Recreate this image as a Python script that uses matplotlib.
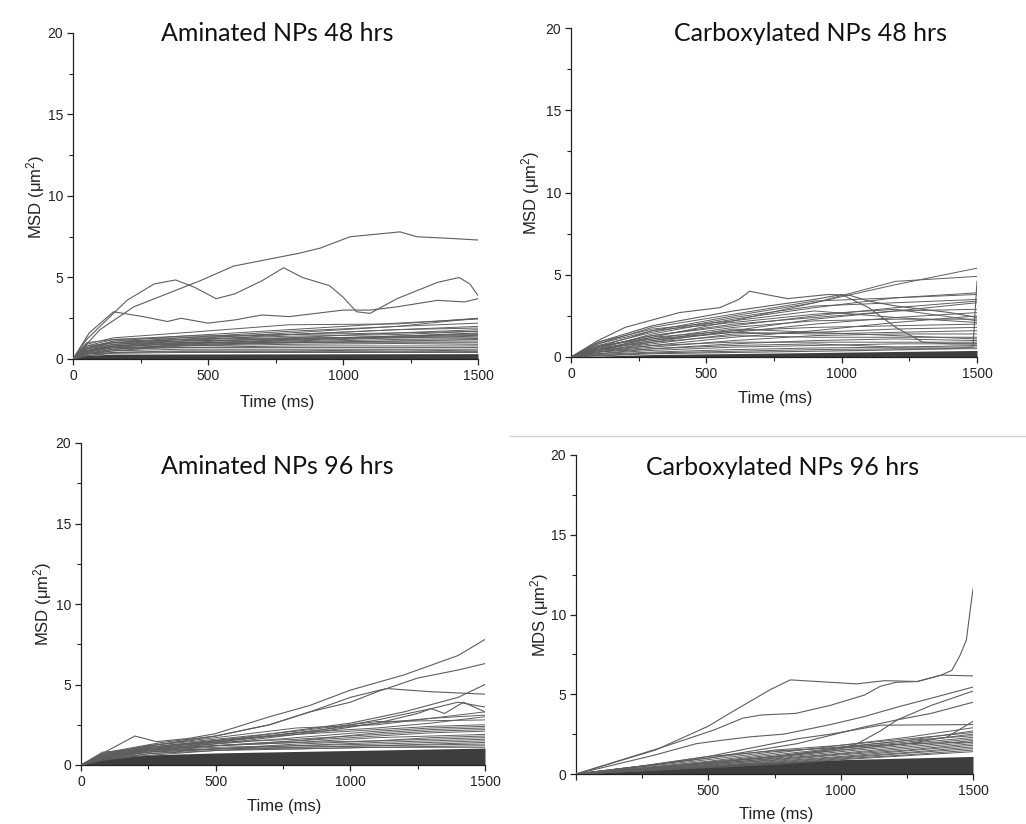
import matplotlib
matplotlib.use("Agg")
import matplotlib.pyplot as plt
from matplotlib.ticker import MultipleLocator, FixedLocator, FixedFormatter

plt.rcParams["mathtext.fontset"] = "custom"
plt.rcParams["mathtext.rm"] = "Liberation Sans"
plt.rcParams["mathtext.it"] = "Liberation Sans:italic"
plt.rcParams["mathtext.bf"] = "Liberation Sans:bold"

W, H = 1026, 824

# ---------------- Aminated NPs, 48 hrs ----------------
am48_grid = [0, 50, 150, 400, 800, 1200, 1500]
am48_bundle = [
    [0, 0.9, 1.3, 1.6, 2.1, 2.15, 2.5],
    [0, 0.6, 1.1, 1.4, 1.8, 2.2, 2.45],
    [0, 0.5, 0.9, 1.2, 1.6, 2.0, 2.5],
    [0, 0.7, 1.0, 1.3, 1.7, 2.0, 2.2],
    [0, 0.5, 0.8, 1.1, 1.5, 1.8, 2.0],
    [0, 0.8, 1.2, 1.3, 1.5, 1.8, 1.9],
    [0, 0.4, 0.7, 1.0, 1.3, 1.6, 1.8],
    [0, 0.6, 1.0, 1.2, 1.4, 1.5, 1.7],
    [0, 0.5, 0.9, 1.1, 1.2, 1.4, 1.6],
    [0, 0.3, 0.6, 0.9, 1.2, 1.4, 1.5],
    [0, 0.7, 1.1, 1.2, 1.3, 1.3, 1.4],
    [0, 0.4, 0.8, 1.0, 1.1, 1.3, 1.3],
    [0, 0.5, 0.8, 0.9, 1.0, 1.1, 1.2],
    [0, 0.3, 0.5, 0.8, 1.0, 1.1, 1.1],
    [0, 0.6, 0.9, 1.0, 1.0, 1.0, 1.0],
    [0, 0.4, 0.7, 0.8, 0.9, 0.95, 0.9],
    [0, 0.3, 0.6, 0.7, 0.8, 0.8, 0.8],
    [0, 0.5, 0.7, 0.7, 0.7, 0.7, 0.7],
    [0, 0.3, 0.5, 0.6, 0.6, 0.6, 0.6],
    [0, 0.2, 0.4, 0.5, 0.5, 0.55, 0.5],
    [0, 0.3, 0.4, 0.45, 0.45, 0.45, 0.45],
    [0, 0.2, 0.35, 0.4, 0.4, 0.4, 0.4],
    [0, 1.0, 1.2, 1.4, 1.5, 1.6, 1.7],
    [0, 0.8, 1.0, 1.1, 1.25, 1.4, 1.55],
    [0, 0.35, 0.6, 0.85, 1.05, 1.2, 1.25],
    [0, 0.45, 0.75, 0.95, 1.15, 1.35, 1.45],
]
am48_high_t = [0, 100, 225, 348, 471, 595, 718, 841, 915, 1026, 1150, 1211, 1273, 1396, 1500]
am48_high_v = [0, 1.8, 3.2, 4.0, 4.8, 5.7, 6.1, 6.5, 6.8, 7.5, 7.7, 7.8, 7.5, 7.4, 7.3]
am48_hump_t = [0, 50, 100, 200, 300, 380, 450, 530, 600, 700, 780, 850, 950, 1000, 1050,
               1100, 1200, 1350, 1430, 1470, 1500]
am48_hump_v = [0, 1.2, 2.0, 3.6, 4.6, 4.85, 4.4, 3.7, 4.0, 4.8, 5.6, 5.0, 4.5, 3.8, 2.9,
               2.8, 3.7, 4.7, 5.0, 4.6, 3.9]
am48_mid_t = [0, 60, 150, 260, 350, 400, 500, 600, 700, 800, 900, 1000, 1100, 1200, 1350, 1450, 1500]
am48_mid_v = [0, 1.6, 2.9, 2.6, 2.3, 2.5, 2.2, 2.4, 2.7, 2.6, 2.8, 3.0, 3.0, 3.2, 3.6, 3.5, 3.7]
am48_core_t = [0, 30, 150, 1500]
am48_core_v = [0, 0.2, 0.3, 0.33]

# ---------------- Carboxylated NPs, 48 hrs ----------------
cb48_grid = [0, 100, 300, 600, 900, 1200, 1500]
cb48_bundle = [
    [0, 0.4, 1.2, 2.2, 3.3, 4.4, 5.4],
    [0, 0.6, 1.6, 2.5, 3.3, 4.6, 4.9],
    [0, 0.8, 1.8, 2.6, 3.4, 3.6, 3.9],
    [0, 0.5, 1.4, 2.3, 3.0, 3.6, 3.8],
    [0, 0.7, 1.5, 2.4, 3.1, 3.3, 3.5],
    [0, 0.3, 0.9, 1.6, 2.3, 2.8, 3.3],
    [0, 0.6, 1.3, 2.0, 2.4, 2.8, 2.9],
    [0, 0.4, 1.0, 1.5, 2.0, 2.4, 2.7],
    [0, 0.9, 1.7, 2.2, 2.8, 2.4, 2.1],
    [0, 0.5, 1.1, 1.8, 2.2, 2.3, 2.3],
    [0, 0.3, 0.7, 1.2, 1.6, 2.1, 2.5],
    [0, 0.6, 1.2, 1.6, 1.8, 1.9, 2.0],
    [0, 0.4, 0.8, 1.4, 1.5, 1.7, 1.8],
    [0, 0.7, 1.1, 1.5, 1.4, 1.5, 1.6],
    [0, 0.3, 0.6, 1.0, 1.3, 1.4, 1.4],
    [0, 0.5, 0.9, 1.3, 1.2, 1.2, 1.2],
    [0, 0.2, 0.5, 0.8, 1.0, 1.1, 1.0],
    [0, 0.4, 0.7, 0.9, 0.9, 0.9, 0.9],
    [0, 0.2, 0.4, 0.6, 0.7, 0.8, 0.8],
    [0, 0.3, 0.5, 0.7, 0.8, 0.6, 0.7],
    [0, 0.15, 0.3, 0.45, 0.55, 0.6, 0.6],
    [0, 0.1, 0.25, 0.35, 0.45, 0.5, 0.5],
    [0, 0.6, 1.3, 1.9, 2.5, 3.0, 3.4],
    [0, 0.8, 1.6, 2.1, 2.6, 2.9, 2.2],
    [0, 0.5, 1.0, 1.7, 1.5, 1.3, 1.1],
]
cb48_hump_t = [0, 100, 200, 400, 550, 620, 660, 720, 800, 950, 1030, 1100, 1200, 1300, 1400, 1500]
cb48_hump_v = [0, 1.0, 1.8, 2.7, 3.0, 3.5, 4.0, 3.8, 3.55, 3.8, 3.75, 3.4, 3.1, 2.9, 2.7, 2.4]
cb48_fall_t = [0, 100, 300, 600, 900, 1000, 1100, 1200, 1300, 1400, 1500]
cb48_fall_v = [0, 0.9, 1.9, 2.8, 3.5, 3.8, 3.0, 1.8, 0.9, 0.8, 0.8]
cb48_spike_t = [0, 300, 700, 1100, 1400, 1485, 1500]
cb48_spike_v = [0, 0.2, 0.3, 0.4, 0.5, 0.6, 4.6]
cb48_core_t = [0, 300, 800, 1500]
cb48_core_v = [0, 0.15, 0.25, 0.4]

# ---------------- Aminated NPs, 96 hrs ----------------
am96_grid = [0, 80, 250, 500, 800, 1100, 1300, 1500]
am96_bundle = [
    [0, 0.6, 1.2, 1.6, 2.1, 2.7, 2.75, 2.8],
    [0, 0.5, 1.0, 1.5, 2.0, 2.6, 2.9, 3.3],
    [0, 0.4, 0.9, 1.4, 2.0, 2.3, 2.6, 3.0],
    [0, 0.7, 1.1, 1.5, 1.9, 2.2, 2.4, 2.5],
    [0, 0.5, 1.0, 1.3, 1.7, 2.1, 2.3, 2.4],
    [0, 0.6, 1.1, 1.4, 1.6, 1.9, 2.1, 2.2],
    [0, 0.4, 0.8, 1.2, 1.5, 1.8, 2.0, 2.1],
    [0, 0.5, 0.9, 1.2, 1.4, 1.7, 1.8, 1.9],
    [0, 0.3, 0.7, 1.0, 1.3, 1.5, 1.7, 1.8],
    [0, 0.6, 1.0, 1.2, 1.4, 1.5, 1.6, 1.7],
    [0, 0.4, 0.8, 1.0, 1.2, 1.4, 1.5, 1.6],
    [0, 0.5, 0.9, 1.1, 1.2, 1.3, 1.4, 1.5],
    [0, 0.3, 0.6, 0.9, 1.1, 1.2, 1.3, 1.4],
    [0, 0.5, 0.8, 1.0, 1.1, 1.2, 1.25, 1.3],
    [0, 0.4, 0.7, 0.9, 1.0, 1.1, 1.15, 1.2],
    [0, 0.6, 0.9, 1.0, 1.0, 1.1, 1.1, 1.1],
    [0, 0.8, 1.0, 1.2, 1.5, 2.0, 2.2, 2.3],
    [0, 0.7, 1.2, 1.7, 2.3, 2.5, 2.9, 3.1],
]
am96_top_t = [0, 100, 200, 280, 400, 500, 700, 850, 1000, 1200, 1400, 1500]
am96_top_v = [0, 0.9, 1.8, 1.45, 1.65, 1.95, 3.0, 3.7, 4.65, 5.6, 6.8, 7.8]
am96_second_t = [0, 100, 300, 500, 700, 850, 1000, 1100, 1250, 1400, 1500]
am96_second_v = [0, 0.7, 1.3, 1.8, 2.5, 3.3, 3.9, 4.55, 5.4, 5.9, 6.3]
am96_peak_t = [0, 100, 300, 500, 700, 850, 1000, 1134, 1300, 1500]
am96_peak_v = [0, 0.8, 1.4, 1.8, 2.5, 3.3, 4.2, 4.75, 4.55, 4.4]
am96_late_t = [0, 100, 300, 600, 1000, 1200, 1400, 1500]
am96_late_v = [0, 0.6, 1.2, 1.7, 2.6, 3.3, 4.2, 5.0]
am96_bend_t = [0, 100, 300, 600, 900, 1100, 1300, 1400, 1500]
am96_bend_v = [0, 0.6, 1.1, 1.6, 2.2, 2.8, 3.5, 3.9, 3.6]
am96_zig_t = [0, 100, 300, 600, 900, 1100, 1250, 1300, 1350, 1420, 1500]
am96_zig_v = [0, 0.5, 1.0, 1.5, 2.1, 2.6, 3.2, 3.5, 3.2, 3.9, 3.3]
am96_core_t = [0, 50, 200, 500, 1000, 1500]
am96_core_v = [0, 0.4, 0.6, 0.75, 0.9, 1.05]

# ---------------- Carboxylated NPs, 96 hrs ----------------
cb96_grid = [0, 250, 500, 750, 1000, 1250, 1500]
cb96_bundle = [
    [0, 0.4, 0.8, 1.3, 1.8, 2.3, 2.9],
    [0, 0.35, 0.75, 1.2, 1.65, 2.1, 2.7],
    [0, 0.3, 0.7, 1.1, 1.6, 2.0, 2.5],
    [0, 0.35, 0.7, 1.05, 1.5, 1.9, 2.3],
    [0, 0.3, 0.6, 1.0, 1.4, 1.8, 2.2],
    [0, 0.3, 0.65, 0.95, 1.3, 1.7, 2.1],
    [0, 0.25, 0.55, 0.9, 1.25, 1.6, 2.0],
    [0, 0.3, 0.6, 0.85, 1.2, 1.5, 1.9],
    [0, 0.25, 0.5, 0.8, 1.1, 1.45, 1.8],
    [0, 0.2, 0.5, 0.75, 1.05, 1.35, 1.7],
    [0, 0.25, 0.45, 0.7, 1.0, 1.3, 1.6],
    [0, 0.2, 0.45, 0.65, 0.95, 1.2, 1.5],
    [0, 0.2, 0.4, 0.6, 0.9, 1.15, 1.4],
    [0, 0.45, 0.9, 1.4, 1.7, 2.1, 2.4],
    [0, 0.5, 1.0, 1.5, 1.8, 2.2, 2.6],
    [0, 0.5, 1.1, 1.45, 1.65, 1.9, 2.0],
]
cb96_spike_t = [0, 330, 520, 630, 700, 830, 960, 1090, 1150, 1210, 1290, 1380, 1420,
                1450, 1475, 1488, 1500]
cb96_spike_v = [0, 1.7, 2.75, 3.5, 3.7, 3.8, 4.3, 4.95, 5.5, 5.75, 5.8, 6.2, 6.5,
                7.4, 8.4, 10.1, 11.6]
cb96_plateau_t = [0, 300, 500, 580, 735, 810, 960, 1060, 1165, 1290, 1380, 1500]
cb96_plateau_v = [0, 1.5, 3.0, 3.8, 5.3, 5.9, 5.75, 5.65, 5.85, 5.8, 6.2, 6.15]
cb96_upper_t = [0, 300, 454, 544, 658, 785, 962, 1089, 1215, 1342, 1500]
cb96_upper_v = [0, 1.2, 1.9, 2.1, 2.33, 2.5, 3.1, 3.6, 4.2, 4.75, 5.45]
cb96_steep_t = [0, 250, 500, 750, 1000, 1063, 1150, 1215, 1342, 1500]
cb96_steep_v = [0, 0.35, 0.7, 1.1, 1.6, 1.9, 2.7, 3.4, 4.3, 5.2]
cb96_mid_t = [0, 250, 500, 835, 1089, 1215, 1342, 1500]
cb96_mid_v = [0, 0.5, 1.0, 1.9, 2.95, 3.4, 3.8, 4.5]
cb96_flat_t = [0, 250, 500, 835, 962, 1152, 1500]
cb96_flat_v = [0, 0.5, 1.1, 2.2, 2.5, 3.06, 3.1]
cb96_kick_t = [0, 250, 500, 750, 1000, 1250, 1400, 1500]
cb96_kick_v = [0, 0.3, 0.7, 1.1, 1.5, 1.9, 2.3, 3.3]
cb96_core_t = [0, 250, 500, 750, 1000, 1250, 1500]
cb96_core_v = [0, 0.35, 0.55, 0.75, 0.9, 1.0, 1.1]

MSD_LABEL = "MSD (μm$^{2}$)"
MDS_LABEL = "MDS (μm$^{2}$)"

# ---------------- layout (pixel boxes: left, right, top, bottom) ----------------
panels = [
    dict(box=(73, 478, 33, 359), title="Aminated NPs 48 hrs", title_xy=(277, 41),
         ylabel=MSD_LABEL, ylab_xy=(36, 197), xlab_xy=(277, 402),
         grid=am48_grid, bundle=am48_bundle, core=(am48_core_t, am48_core_v),
         tracks=[(am48_high_t, am48_high_v), (am48_hump_t, am48_hump_v),
                 (am48_mid_t, am48_mid_v)],
         xticklabels=["0", "500", "1000", "1500"]),
    dict(box=(571, 977, 28, 357), title="Carboxylated NPs 48 hrs", title_xy=(811, 41),
         ylabel=MSD_LABEL, ylab_xy=(531, 193), xlab_xy=(775, 398),
         grid=cb48_grid, bundle=cb48_bundle, core=(cb48_core_t, cb48_core_v),
         tracks=[(cb48_hump_t, cb48_hump_v), (cb48_fall_t, cb48_fall_v),
                 (cb48_spike_t, cb48_spike_v)],
         xticklabels=["0", "500", "1000", "1500"]),
    dict(box=(81, 485, 443, 765), title="Aminated NPs 96 hrs", title_xy=(277, 474),
         ylabel=MSD_LABEL, ylab_xy=(43, 604), xlab_xy=(284, 807),
         grid=am96_grid, bundle=am96_bundle, core=(am96_core_t, am96_core_v),
         tracks=[(am96_top_t, am96_top_v), (am96_second_t, am96_second_v),
                 (am96_peak_t, am96_peak_v), (am96_late_t, am96_late_v),
                 (am96_bend_t, am96_bend_v), (am96_zig_t, am96_zig_v)],
         xticklabels=["0", "500", "1000", "1500"]),
    dict(box=(576, 973, 455, 774), title="Carboxylated NPs 96 hrs", title_xy=(783, 475),
         ylabel=MDS_LABEL, ylab_xy=(540, 615), xlab_xy=(776, 815),
         grid=cb96_grid, bundle=cb96_bundle, core=(cb96_core_t, cb96_core_v),
         tracks=[(cb96_spike_t, cb96_spike_v), (cb96_plateau_t, cb96_plateau_v),
                 (cb96_upper_t, cb96_upper_v), (cb96_steep_t, cb96_steep_v),
                 (cb96_mid_t, cb96_mid_v), (cb96_flat_t, cb96_flat_v),
                 (cb96_kick_t, cb96_kick_v)],
         xticklabels=["", "500", "1000", "1500"]),
]

fig = plt.figure(figsize=(W / 100, H / 100), dpi=100)
fig.patch.set_facecolor("white")

tick_font = "Liberation Sans"
title_font = "Lato"
line_col = "#5e5e5e"
core_col = "#3d3d3d"

for p in panels:
    l, r, t, b = p["box"]
    ax = fig.add_axes([l / W, 1 - b / H, (r - l) / W, (b - t) / H])
    ax.set_xlim(0, 1500)
    ax.set_ylim(0, 20)

    # dense cloud of short tracks hugging the baseline
    ct, cv = p["core"]
    ax.fill_between(ct, 0, cv, color=core_col, lw=0, zorder=2)
    for row in p["bundle"]:
        ax.plot(p["grid"], row, color=line_col, lw=0.7, zorder=3)
    for tt, vv in p["tracks"]:
        ax.plot(tt, vv, color=line_col, lw=0.8, zorder=4)

    for side in ("top", "right"):
        ax.spines[side].set_visible(False)
    for side in ("left", "bottom"):
        ax.spines[side].set_color("#222222")
        ax.spines[side].set_linewidth(0.9)

    ax.xaxis.set_major_locator(FixedLocator([0, 500, 1000, 1500]))
    ax.xaxis.set_major_formatter(FixedFormatter(p["xticklabels"]))
    ax.xaxis.set_minor_locator(MultipleLocator(250))
    ax.yaxis.set_major_locator(MultipleLocator(5))
    ax.yaxis.set_minor_locator(MultipleLocator(2.5))
    ax.tick_params(which="major", direction="out", length=4, width=0.9,
                   colors="#222222", labelsize=10, pad=3)
    ax.tick_params(which="minor", direction="out", length=3, width=0.8,
                   colors="#222222")
    for lab in ax.get_xticklabels() + ax.get_yticklabels():
        lab.set_fontfamily(tick_font)

    fig.text(p["title_xy"][0] / W, 1 - p["title_xy"][1] / H, p["title"],
             ha="center", va="baseline", fontsize=18, family=title_font,
             color="#111111")
    fig.text(p["ylab_xy"][0] / W, 1 - p["ylab_xy"][1] / H, p["ylabel"],
             ha="center", va="center", rotation=90, fontsize=12,
             family=tick_font, color="#222222")
    fig.text(p["xlab_xy"][0] / W, 1 - p["xlab_xy"][1] / H, "Time (ms)",
             ha="center", va="center", fontsize=12, family=tick_font,
             color="#222222")

# thin separator between the lower-right panel and the row above
fig.add_artist(plt.Line2D([510 / W, 1.0], [1 - 436 / H, 1 - 436 / H],
                          color="#d4d4d4", lw=1.0))

fig.savefig("out.png", dpi=100, facecolor="white")
